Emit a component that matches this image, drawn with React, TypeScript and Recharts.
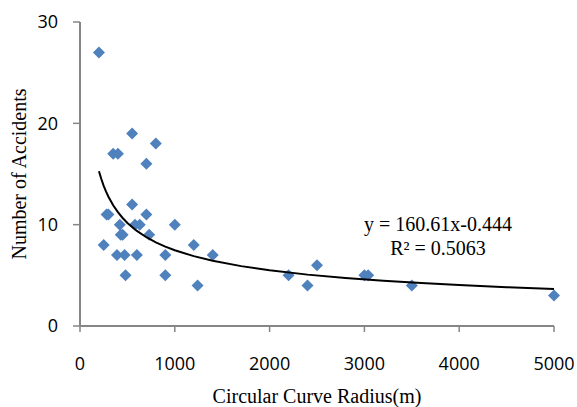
import { ScatterChart, Scatter, XAxis, YAxis, Label } from 'recharts'

// observed points: curve radius (m) vs. number of accidents
const radii = [200, 550, 350, 400, 800, 700, 280, 300, 550, 700, 420, 580, 630, 1000, 430, 450, 730, 250, 1200, 390, 470, 600, 900, 1400, 480, 900, 1240, 2200, 2400, 2500, 3000, 3040, 3500, 5000]
const accidents = [27, 19, 17, 17, 18, 16, 11, 11, 12, 11, 10, 10, 10, 10, 9, 9, 9, 8, 8, 7, 7, 7, 7, 7, 5, 5, 4, 5, 4, 6, 5, 5, 4, 3]

// power trendline shown on the chart: y = 160.61 x^-0.444
const trendCoef = 160.61
const trendExp = -0.444
const trendX = [200, 225, 250, 275, 300, 350, 400, 450, 500, 600, 700, 800, 900, 1000, 1200, 1400, 1700, 2000, 2400, 2800, 3200, 3600, 4000, 4500, 5000]

const xTicks = [0, 1000, 2000, 3000, 4000, 5000]
const yTicks = [0, 10, 20, 30]

const points = radii.map((r, i) => ({ x: r, y: accidents[i] }))
const trend = trendX.map((x) => ({ x, y: trendCoef * Math.pow(x, trendExp) }))

const BLUE = '#4F81BD'
const AXIS = '#868686'
const SERIF = '"Liberation Serif", "Times New Roman", serif'
const SANS = '"Open Sans", "Liberation Sans", sans-serif'

const Diamond = (props: any) => {
  const { cx, cy } = props
  const s = 6
  return <polygon points={`${cx},${cy - s} ${cx + s},${cy} ${cx},${cy + s} ${cx - s},${cy}`} fill={BLUE} />
}

const YTitle = () => (
  <text x={19} y={174} transform="rotate(-90 19 174)" textAnchor="middle" dominantBaseline="central"
    fontFamily={SERIF} fontSize={20} fill="#000">
    Number of Accidents
  </text>
)

export default function App() {
  return (
    <div style={{ position: 'absolute', left: 0, top: 0, width: 577, height: 407 }}>
      <ScatterChart width={577} height={407} margin={{ top: 22, right: 23, bottom: 0, left: 0 }}>
        <XAxis type="number" dataKey="x" domain={[0, 5000]} ticks={xTicks} height={81}
          axisLine={{ stroke: AXIS, strokeWidth: 2 }} tickLine={{ stroke: AXIS, strokeWidth: 1.5 }}
          tickSize={6} tickMargin={25} tick={{ fill: '#000', fontSize: 18, fontFamily: SANS }}>
          <Label value="Circular Curve Radius(m)" position="insideBottom" offset={4}
            style={{ fontFamily: SERIF, fontSize: 20, fill: '#000' }} />
        </XAxis>
        <YAxis type="number" dataKey="y" domain={[0, 30]} ticks={yTicks} width={80}
          axisLine={{ stroke: AXIS, strokeWidth: 2 }} tickLine={{ stroke: AXIS, strokeWidth: 1.5 }}
          tickSize={7} tickMargin={15} tick={{ fill: '#000', fontSize: 18, fontFamily: SANS }}>
          <Label content={<YTitle />} />
        </YAxis>
        <Scatter data={points} shape={<Diamond />} isAnimationActive={false} />
        <Scatter data={trend} line={{ stroke: '#000', strokeWidth: 2 }} lineType="joint"
          shape={() => <g />} isAnimationActive={false} />
      </ScatterChart>
      <div style={{ position: 'absolute', left: 338, top: 212, width: 200, textAlign: 'center',
        fontFamily: SERIF, fontSize: 20, lineHeight: '24px', color: '#000' }}>
        <div>y = 160.61x-0.444</div>
        <div>R² = 0.5063</div>
      </div>
    </div>
  )
}
